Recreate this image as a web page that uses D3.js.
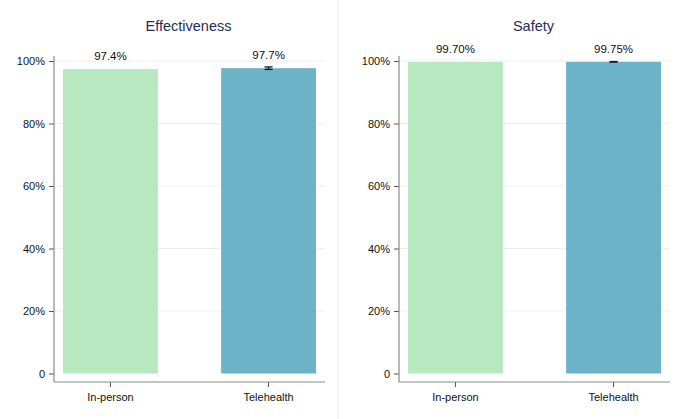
<!DOCTYPE html>
<html>
<head>
<meta charset="utf-8">
<script src="https://cdn.jsdelivr.net/npm/d3@7"></script>
<style>
    body { margin: 0; background: #fff; }
    svg { display: block; font-family: "Liberation Sans", Arial, sans-serif; }
</style>
</head>
<body>
<div id="chart"></div>
<script>
// Data
const groups = ["In-person", "Telehealth"];
const panelTitles = ["Effectiveness", "Safety"];
const effectivenessValues = [97.4, 97.7];
const effectivenessLabels = ["97.4%", "97.7%"];
const effectivenessLow = [null, 97.3];
const effectivenessHigh = [null, 98.1];
const safetyValues = [99.70, 99.75];
const safetyLabels = ["99.70%", "99.75%"];
const safetyLow = [null, 99.68];
const safetyHigh = [null, 99.82];
const yTicks = [0, 20, 40, 60, 80, 100];
const barColors = ["#b8e8c0", "#6cb3c8"];

const svg = d3.select("#chart").append("svg")
    .attr("width", 680)
    .attr("height", 419);

// faint divider between the two panels
svg.append("line")
    .attr("x1", 338).attr("x2", 338)
    .attr("y1", 0).attr("y2", 419)
    .attr("stroke", "#eef1f3")
    .attr("stroke-width", 1);

const panels = [
    { left: 54, title: panelTitles[0], values: effectivenessValues, labels: effectivenessLabels, lo: effectivenessLow, hi: effectivenessHigh },
    { left: 399, title: panelTitles[1], values: safetyValues, labels: safetyLabels, lo: safetyLow, hi: safetyHigh }
];

const plotTop = 61, plotH = 312.5, plotW = 271;

panels.forEach(p => {
    const g = svg.append("g").attr("transform", `translate(${p.left},${plotTop})`);

    const x = d3.scaleBand()
        .domain(groups)
        .range([0, plotW])
        .paddingInner(0.4)
        .paddingOuter(0.057);

    const y = d3.scaleLinear()
        .domain([0, 100])
        .range([plotH, 0]);

    // gridlines
    g.selectAll(".grid")
        .data(yTicks.filter(d => d > 0))
        .enter().append("line")
        .attr("x1", 0).attr("x2", plotW)
        .attr("y1", d => y(d)).attr("y2", d => y(d))
        .attr("stroke", "#eaeef0")
        .attr("stroke-width", 1);

    // bars
    g.selectAll(".bar")
        .data(p.values)
        .enter().append("rect")
        .attr("x", (d, i) => x(groups[i]))
        .attr("y", d => y(d))
        .attr("width", x.bandwidth())
        .attr("height", d => plotH - y(d))
        .attr("fill", (d, i) => barColors[i]);

    // error bars
    p.values.forEach((v, i) => {
        if (p.lo[i] == null) return;
        const cx = x(groups[i]) + x.bandwidth() / 2;
        const eg = g.append("g").attr("stroke", "#111").attr("stroke-width", 1.3);
        eg.append("line").attr("x1", cx).attr("x2", cx).attr("y1", y(p.lo[i])).attr("y2", y(p.hi[i]));
        eg.append("line").attr("x1", cx - 4).attr("x2", cx + 4).attr("y1", y(p.lo[i])).attr("y2", y(p.lo[i]));
        eg.append("line").attr("x1", cx - 4).attr("x2", cx + 4).attr("y1", y(p.hi[i])).attr("y2", y(p.hi[i]));
    });

    // value labels, sitting just above each bar
    g.selectAll(".val")
        .data(p.labels)
        .enter().append("text")
        .attr("x", (d, i) => x(groups[i]) + x.bandwidth() / 2)
        .attr("y", (d, i) => y(p.values[i]) - 9)
        .attr("text-anchor", "middle")
        .attr("font-size", 11.5)
        .attr("fill", "#111")
        .text(d => d);

    // title
    g.append("text")
        .attr("x", plotW / 2 - 1)
        .attr("y", -30)
        .attr("text-anchor", "middle")
        .attr("font-size", 14.5)
        .attr("fill", "#1f2d5c")
        .text(p.title);

    // y axis
    const yAxis = g.append("g")
        .call(d3.axisLeft(y).tickValues(yTicks).tickSize(5).tickPadding(4)
            .tickFormat(d => d === 0 ? "0" : d + "%"));
    yAxis.select(".domain").remove();
    yAxis.selectAll(".tick line").attr("stroke", "#555");
    yAxis.selectAll("text").attr("font-size", 11).attr("fill", "#111")
        .style("font-family", "'Liberation Sans', Arial, sans-serif");
    g.append("line")
        .attr("x1", 0).attr("x2", 0)
        .attr("y1", -5).attr("y2", plotH + 8.5)
        .attr("stroke", "#8a8a8a").attr("stroke-width", 1.2);

    // x axis
    const xAxis = g.append("g")
        .attr("transform", `translate(0,${plotH + 8.5})`)
        .call(d3.axisBottom(x).tickSize(5).tickPadding(6));
    xAxis.select(".domain").remove();
    xAxis.selectAll(".tick line").attr("stroke", "#555");
    xAxis.selectAll("text").attr("font-size", 11).attr("fill", "#111")
        .style("font-family", "'Liberation Sans', Arial, sans-serif");
    g.append("line")
        .attr("x1", 0).attr("x2", plotW)
        .attr("y1", plotH + 8.5).attr("y2", plotH + 8.5)
        .attr("stroke", "#8a8a8a").attr("stroke-width", 1.2);
});
</script>
</body>
</html>
